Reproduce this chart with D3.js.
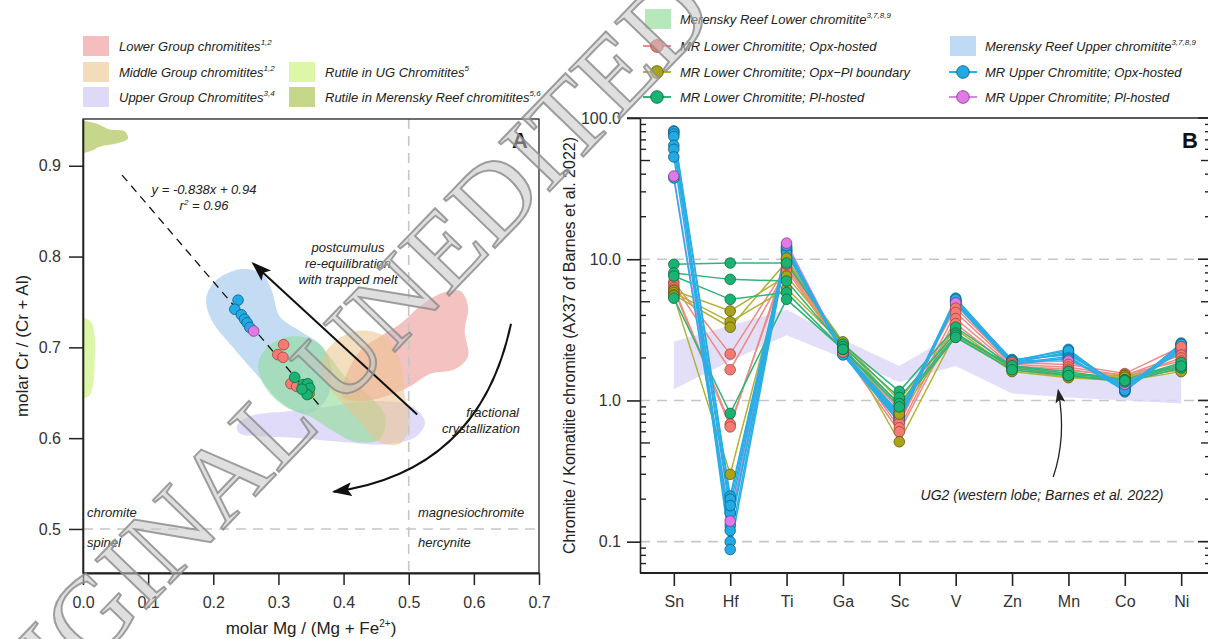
<!DOCTYPE html>
<html>
<head>
<meta charset="utf-8">
<script src="https://cdn.jsdelivr.net/npm/d3@7"></script>
<style>
  body { margin: 0; background: #fff; }
  svg { display: block; }
</style>
</head>
<body>
<svg id="chart" width="1208" height="639"></svg>
<script>
// ---------------- Panel A: spinel classification ----------------
const xTicksA = [0, 0.1, 0.2, 0.3, 0.4, 0.5, 0.6, 0.7];
const xTickLabelsA = ["0.0", "0.1", "0.2", "0.3", "0.4", "0.5", "0.6", "0.7"];
const yTicksA = [0.5, 0.6, 0.7, 0.8, 0.9];
const yTickLabelsA = ["0.5", "0.6", "0.7", "0.8", "0.9"];

// measured chromite compositions: Mg# and Cr#
const upperOpxMg = [0.238, 0.233, 0.243, 0.248, 0.252, 0.256];
const upperOpxCr = [0.752, 0.742, 0.736, 0.731, 0.727, 0.722];
const upperPlMg = [0.262];
const upperPlCr = [0.718];
const lowerOpxMg = [0.308, 0.299, 0.307, 0.319, 0.328];
const lowerOpxCr = [0.703, 0.692, 0.689, 0.660, 0.657];
const lowerBoundaryMg = [0.347];
const lowerBoundaryCr = [0.649];
const lowerPlMg = [0.325, 0.338, 0.345, 0.348, 0.344, 0.336];
const lowerPlCr = [0.667, 0.659, 0.660, 0.655, 0.648, 0.654];

// regression through the data
const fitSlope = -0.838, fitIntercept = 0.94;
const fitRange = [0.06, 0.365];

// literature fields, outlines as [Mg#, Cr#]
const fieldUpperGroup = [[0.236,0.613],[0.256,0.624],[0.318,0.630],[0.379,0.635],[0.441,0.641],[0.502,0.636],[0.525,0.618],[0.510,0.601],[0.456,0.593],[0.395,0.596],[0.333,0.600],[0.272,0.602],[0.241,0.605]];
const fieldMRUpper = [[0.203,0.773],[0.241,0.786],[0.275,0.781],[0.290,0.762],[0.302,0.734],[0.333,0.718],[0.367,0.701],[0.382,0.674],[0.372,0.641],[0.341,0.627],[0.302,0.641],[0.269,0.668],[0.229,0.701],[0.198,0.729],[0.189,0.753]];
const fieldMRLower = [[0.284,0.701],[0.318,0.712],[0.356,0.707],[0.379,0.690],[0.402,0.668],[0.441,0.646],[0.464,0.624],[0.456,0.599],[0.418,0.596],[0.379,0.610],[0.348,0.624],[0.310,0.635],[0.279,0.657],[0.269,0.682]];
const fieldLowerGroup = [[0.402,0.665],[0.425,0.696],[0.456,0.712],[0.487,0.726],[0.517,0.745],[0.548,0.759],[0.579,0.762],[0.591,0.745],[0.586,0.718],[0.591,0.690],[0.571,0.676],[0.533,0.671],[0.502,0.657],[0.464,0.646],[0.425,0.641],[0.398,0.646]];
const fieldMiddleGroup = [[0.379,0.701],[0.418,0.718],[0.464,0.712],[0.487,0.685],[0.494,0.646],[0.502,0.618],[0.487,0.594],[0.453,0.596],[0.425,0.618],[0.395,0.641],[0.372,0.663],[0.367,0.685]];
const fieldRutileMR = [[-0.01,0.948],[0.018,0.947],[0.041,0.940],[0.064,0.938],[0.069,0.930],[0.054,0.925],[0.026,0.921],[0.011,0.916],[-0.01,0.915]];
const fieldRutileUG = [[-0.01,0.732],[0.011,0.729],[0.018,0.712],[0.018,0.685],[0.015,0.657],[0.008,0.646],[-0.01,0.645]];

// ---------------- Panel B: normalised trace elements ----------------
const elements = ["Sn", "Hf", "Ti", "Ga", "Sc", "V", "Zn", "Mn", "Co", "Ni"];
const yTicksB = [0.1, 1, 10, 100];
const yTickLabelsB = ["0.1", "1.0", "10.0", "100.0"];

const lowerOpxProfiles = [
  [6.9, 2.13, 8.8, 2.30, 0.86, 4.5, 1.85, 1.80, 1.55, 2.40],
  [6.6, 1.65, 8.4, 2.25, 0.69, 4.2, 1.80, 1.72, 1.50, 2.10],
  [6.3, 0.68, 9.2, 2.35, 0.64, 3.8, 1.75, 1.66, 1.45, 2.00],
  [6.1, 0.65, 10.0, 2.20, 0.60, 3.5, 1.70, 1.62, 1.52, 1.90]
];
const lowerBoundaryProfiles = [
  [6.0, 4.3, 7.6, 2.55, 1.00, 3.2, 1.65, 1.46, 1.44, 1.64],
  [5.8, 3.6, 6.2, 2.50, 0.92, 2.8, 1.73, 1.50, 1.50, 1.70],
  [5.6, 3.3, 9.6, 2.60, 0.51, 3.0, 1.60, 1.45, 1.38, 1.60],
  [5.5, 0.30, 10.2, 2.40, 0.80, 2.9, 1.70, 1.55, 1.46, 1.75]
];
const lowerPlProfiles = [
  [9.2, 9.4, 9.4, 2.50, 1.16, 3.3, 1.75, 1.55, 1.40, 1.80],
  [8.0, 7.2, 7.0, 2.40, 1.05, 3.0, 1.70, 1.50, 1.35, 1.70],
  [7.6, 5.2, 5.8, 2.30, 0.95, 2.9, 1.76, 1.60, 1.40, 1.85],
  [5.3, 0.81, 5.2, 2.30, 0.90, 2.8, 1.65, 1.50, 1.38, 1.75]
];
const upperOpxProfiles = [
  [81, 0.21, 12.2, 2.20, 0.75, 5.3, 1.90, 2.30, 1.15, 2.55],
  [80, 0.10, 12.0, 2.20, 0.76, 5.0, 1.88, 2.15, 1.22, 2.45],
  [77, 0.20, 11.5, 2.15, 0.72, 5.1, 1.85, 2.20, 1.20, 2.50],
  [74, 0.088, 11.3, 2.18, 0.74, 4.9, 1.82, 2.05, 1.17, 2.35],
  [64, 0.16, 11.8, 2.25, 0.78, 5.0, 1.95, 2.10, 1.25, 2.40],
  [60, 0.18, 11.6, 2.22, 0.80, 5.1, 1.92, 2.25, 1.20, 2.50],
  [53, 0.13, 11.0, 2.20, 0.82, 4.8, 1.80, 2.00, 1.18, 2.30],
  [37.6, 0.12, 12.5, 2.10, 0.70, 5.2, 1.90, 1.95, 1.30, 2.20]
];
const upperPlProfiles = [
  [38.8, 0.14, 13.0, 2.20, 0.72, 4.9, 1.85, 1.90, 1.30, 2.30]
];

// UG2 western lobe envelope
const ug2Upper = [2.6, 3.4, 4.4, 2.7, 1.75, 3.0, 1.6, 1.5, 1.45, 1.55];
const ug2Lower = [1.2, 1.9, 2.9, 2.0, 1.35, 1.75, 1.12, 1.05, 1.0, 0.95];

// ---------------- styles ----------------
const SANS = '"Liberation Sans", Arial, Helvetica, sans-serif';
const styleLowerOpx = { fill: "#f47a72", stroke: "#a4443e", line: "#f08a82" };
const styleBoundary = { fill: "#a8a31a", stroke: "#5c5a0e", line: "#b4b038" };
const styleLowerPl  = { fill: "#1bb373", stroke: "#0c6a42", line: "#2fb57a" };
const styleUpperOpx = { fill: "#21aae3", stroke: "#0e5f88", line: "#2aaee6" };
const styleUpperPl  = { fill: "#e07ae6", stroke: "#8a3a90", line: "#d58ae0" };
const fieldStyles = {
  lowerGroup:  { fill: "#ef9a9a", op: 0.6 },
  middleGroup: { fill: "#e9c48a", op: 0.55 },
  upperGroup:  { fill: "#d5cff5", op: 0.75 },
  rutileUG:    { fill: "#dcf7a8", op: 1 },
  rutileMR:    { fill: "#c6d68a", op: 1 },
  mrLower:     { fill: "#8fdc98", op: 0.6 },
  mrUpper:     { fill: "#a9cdf0", op: 0.7 }
};

const svg = d3.select("#chart").style("font-family", SANS);

// arrowheads
const defs = svg.append("defs");
defs.append("marker").attr("id", "headBig")
  .attr("viewBox", "0 0 20 14").attr("refX", 18).attr("refY", 7)
  .attr("markerWidth", 20).attr("markerHeight", 14)
  .attr("markerUnits", "userSpaceOnUse").attr("orient", "auto")
  .append("path").attr("d", "M0,0 L20,7 L0,14 L4,7 Z").attr("fill", "#111");
defs.append("marker").attr("id", "headSmall")
  .attr("viewBox", "0 0 14 10").attr("refX", 12).attr("refY", 5)
  .attr("markerWidth", 14).attr("markerHeight", 10)
  .attr("markerUnits", "userSpaceOnUse").attr("orient", "auto")
  .append("path").attr("d", "M0,0 L14,5 L0,10 L3,5 Z").attr("fill", "#222");

// ================= PANEL A =================
const xA = d3.scaleLinear().domain([0, 0.7]).range([83, 539]);
const yA = d3.scaleLinear().domain([0.4515, 0.9515]).range([573, 119]);

defs.append("clipPath").attr("id", "clipA").append("rect")
  .attr("x", xA(0)).attr("y", yA(0.9515)).attr("width", xA(0.7) - xA(0)).attr("height", yA(0.4515) - yA(0.9515));

const gA = svg.append("g");
const fieldsA = gA.append("g").attr("clip-path", "url(#clipA)");
const blob = d3.line().x(d => xA(d[0])).y(d => yA(d[1])).curve(d3.curveCatmullRomClosed.alpha(0.5));
[
  [fieldUpperGroup, fieldStyles.upperGroup],
  [fieldMRUpper, fieldStyles.mrUpper],
  [fieldMRLower, fieldStyles.mrLower],
  [fieldLowerGroup, fieldStyles.lowerGroup],
  [fieldMiddleGroup, fieldStyles.middleGroup],
  [fieldRutileMR, fieldStyles.rutileMR],
  [fieldRutileUG, fieldStyles.rutileUG]
].forEach(([pts, st]) => {
  fieldsA.append("path").attr("d", blob(pts)).attr("fill", st.fill).attr("fill-opacity", st.op);
});

// classification boundaries
gA.append("line").attr("x1", xA(0)).attr("x2", xA(0.7)).attr("y1", yA(0.5)).attr("y2", yA(0.5))
  .attr("stroke", "#c6c6c6").attr("stroke-width", 1.6).attr("stroke-dasharray", "10,7");
gA.append("line").attr("x1", xA(0.5)).attr("x2", xA(0.5)).attr("y1", yA(0.9515)).attr("y2", yA(0.4515))
  .attr("stroke", "#c6c6c6").attr("stroke-width", 1.6).attr("stroke-dasharray", "10,7");

// regression line
gA.append("line")
  .attr("x1", xA(fitRange[0])).attr("y1", yA(fitSlope * fitRange[0] + fitIntercept))
  .attr("x2", xA(fitRange[1])).attr("y2", yA(fitSlope * fitRange[1] + fitIntercept))
  .attr("stroke", "#111").attr("stroke-width", 1.3).attr("stroke-dasharray", "8,6");

// process arrows
gA.append("line")
  .attr("x1", xA(0.513)).attr("y1", yA(0.626)).attr("x2", xA(0.261)).attr("y2", yA(0.7925))
  .attr("stroke", "#111").attr("stroke-width", 2).attr("marker-end", "url(#headBig)");
const curvePath = d3.path();
curvePath.moveTo(xA(0.657), yA(0.726));
curvePath.quadraticCurveTo(xA(0.609), yA(0.563), xA(0.385), yA(0.541));
gA.append("path").attr("d", curvePath.toString()).attr("fill", "none")
  .attr("stroke", "#111").attr("stroke-width", 2).attr("marker-end", "url(#headBig)");

// data points
function dotsA(mg, cr, st) {
  gA.append("g").selectAll("circle").data(mg).join("circle")
    .attr("cx", d => xA(d)).attr("cy", (d, i) => yA(cr[i])).attr("r", 5.3)
    .attr("fill", st.fill).attr("stroke", st.stroke).attr("stroke-width", 0.8);
}
dotsA(upperOpxMg, upperOpxCr, styleUpperOpx);
dotsA(upperPlMg, upperPlCr, styleUpperPl);
dotsA(lowerOpxMg, lowerOpxCr, styleLowerOpx);
dotsA(lowerBoundaryMg, lowerBoundaryCr, styleBoundary);
dotsA(lowerPlMg, lowerPlCr, styleLowerPl);

// frame and axes
gA.append("rect").attr("x", xA(0)).attr("y", yA(0.9515)).attr("width", xA(0.7) - xA(0)).attr("height", yA(0.4515) - yA(0.9515))
  .attr("fill", "none").attr("stroke", "#222").attr("stroke-width", 1.3);
const axA = gA.append("g").attr("transform", `translate(0,${yA(0.4515)})`)
  .call(d3.axisBottom(xA).tickValues(xTicksA).tickFormat((d, i) => xTickLabelsA[i]).tickSize(12).tickSizeOuter(0).tickPadding(12));
const ayA = gA.append("g").attr("transform", `translate(${xA(0)},0)`)
  .call(d3.axisLeft(yA).tickValues(yTicksA).tickFormat((d, i) => yTickLabelsA[i]).tickSize(14).tickSizeOuter(0).tickPadding(8));
[axA, ayA].forEach(g => {
  g.selectAll("text").attr("font-size", 16).attr("fill", "#333").attr("font-family", SANS);
  g.selectAll("line").attr("stroke", "#222").attr("stroke-width", 1.5);
});
axA.select(".domain").attr("stroke", "#222").attr("stroke-width", 2.2);
ayA.select(".domain").attr("stroke", "#222").attr("stroke-width", 1.6);

gA.append("text").attr("x", (xA(0) + xA(0.7)) / 2).attr("y", 634).attr("text-anchor", "middle")
  .attr("font-size", 17).attr("fill", "#222")
  .call(t => { t.append("tspan").text("molar Mg / (Mg + Fe");
               t.append("tspan").text("2+").attr("font-size", 10).attr("dy", -7);
               t.append("tspan").text(")").attr("dy", 7); });
gA.append("text").attr("transform", `translate(28,${(yA(0.4515) + yA(0.9515)) / 2}) rotate(-90)`)
  .attr("text-anchor", "middle").attr("font-size", 17).attr("fill", "#222").text("molar Cr / (Cr + Al)");

// annotations
const ital = (g, x, y, txt, anchor) => g.append("text").attr("x", x).attr("y", y)
  .attr("text-anchor", anchor || "start").attr("font-size", 13).attr("font-style", "italic").attr("fill", "#222").text(txt);
ital(gA, 204, 194, "y = -0.838x + 0.94", "middle");
gA.append("text").attr("x", 204).attr("y", 210).attr("text-anchor", "middle").attr("font-size", 13)
  .attr("font-style", "italic").attr("fill", "#222")
  .call(t => { t.append("tspan").text("r");
               t.append("tspan").text("2").attr("font-size", 8).attr("dy", -5);
               t.append("tspan").text(" = 0.96").attr("dy", 5); });
ital(gA, 348, 252, "postcumulus", "middle");
ital(gA, 348, 268, "re-equilibration", "middle");
ital(gA, 348, 284, "with trapped melt", "middle");
ital(gA, 519, 417, "fractional", "end");
ital(gA, 520, 433, "crystallization", "end");
ital(gA, 87, 517, "chromite");
ital(gA, 87, 547, "spinel");
ital(gA, 418, 517, "magnesiochromite");
ital(gA, 418, 547, "hercynite");
gA.append("text").attr("x", 520).attr("y", 148).attr("text-anchor", "middle")
  .attr("font-size", 22).attr("font-weight", "bold").attr("fill", "#111").text("A");

// ================= PANEL B =================
const xB = d3.scalePoint().domain(elements).range([640, 1215]).padding(0.6);
const yB = d3.scaleLog().domain([0.06, 100]).range([573, 118]);
const gB = svg.append("g");

// decade gridlines
gB.append("g").selectAll("line").data([0.1, 1, 10]).join("line")
  .attr("x1", 640).attr("x2", 1211).attr("y1", d => yB(d)).attr("y2", d => yB(d))
  .attr("stroke", "#c6c6c6").attr("stroke-width", 1.6).attr("stroke-dasharray", "10,7");

// UG2 envelope
const ug2Area = d3.area().x((d, i) => xB(elements[i])).y0((d, i) => yB(ug2Lower[i])).y1(d => yB(d));
gB.append("path").attr("d", ug2Area(ug2Upper)).attr("fill", "#dcd7f7").attr("fill-opacity", 0.8);

const profileLine = d3.line().x((d, i) => xB(elements[i])).y(d => yB(d));
const groupsB = [
  [lowerOpxProfiles, styleLowerOpx],
  [lowerBoundaryProfiles, styleBoundary],
  [lowerPlProfiles, styleLowerPl],
  [upperPlProfiles, styleUpperPl],
  [upperOpxProfiles, styleUpperOpx]
];
groupsB.forEach(([profiles, st]) => {
  gB.append("g").selectAll("path").data(profiles).join("path")
    .attr("d", profileLine).attr("fill", "none").attr("stroke", st.line).attr("stroke-width", 1.5);
});
[
  [upperOpxProfiles, styleUpperOpx],
  [upperPlProfiles, styleUpperPl],
  [lowerOpxProfiles, styleLowerOpx],
  [lowerBoundaryProfiles, styleBoundary],
  [lowerPlProfiles, styleLowerPl]
].forEach(([profiles, st]) => {
  const pts = profiles.flatMap(p => p.map((v, i) => ({ el: elements[i], v })));
  gB.append("g").selectAll("circle").data(pts).join("circle")
    .attr("cx", d => xB(d.el)).attr("cy", d => yB(d.v)).attr("r", 5.3)
    .attr("fill", st.fill).attr("stroke", st.stroke).attr("stroke-width", 0.8);
});

// frame
gB.append("line").attr("x1", 627).attr("x2", 1211).attr("y1", yB(100)).attr("y2", yB(100)).attr("stroke", "#222").attr("stroke-width", 1.5);
gB.append("line").attr("x1", 1211).attr("x2", 1211).attr("y1", yB(100)).attr("y2", yB(0.06)).attr("stroke", "#222").attr("stroke-width", 1.5);

const axB = gB.append("g").attr("transform", `translate(0,${yB(0.06)})`)
  .call(d3.axisBottom(xB).tickSize(13).tickSizeOuter(0).tickPadding(10));
axB.select(".domain").attr("d", "M640,0H1211").attr("stroke", "#222").attr("stroke-width", 2.2);
const ayB = gB.append("g").attr("transform", "translate(640,0)")
  .call(d3.axisLeft(yB).tickValues(yTicksB).tickFormat((d, i) => yTickLabelsB[i]).tickSize(13).tickSizeOuter(0).tickPadding(6));
ayB.select(".domain").attr("stroke", "#222").attr("stroke-width", 1.6);
[axB, ayB].forEach(g => {
  g.selectAll("text").attr("font-size", 16).attr("fill", "#333").attr("font-family", SANS);
  g.selectAll("line").attr("stroke", "#222").attr("stroke-width", 1.6);
});
// minor ticks on the log axis (inside), mirrored on the right
const minorB = yB.ticks().filter(v => v >= 0.06 && v <= 100 && !yTicksB.includes(v));
const minorLen = v => (Math.abs(v / Math.pow(10, Math.floor(Math.log10(v) + 1e-9)) - 5) < 1e-6 ? 10 : 6);
gB.append("g").selectAll("line").data(minorB).join("line")
  .attr("x1", 640).attr("x2", d => 640 + minorLen(d)).attr("y1", d => yB(d)).attr("y2", d => yB(d))
  .attr("stroke", "#222").attr("stroke-width", 1.4);
gB.append("g").selectAll("line").data(minorB).join("line")
  .attr("x1", 1211).attr("x2", d => 1211 - minorLen(d)).attr("y1", d => yB(d)).attr("y2", d => yB(d))
  .attr("stroke", "#222").attr("stroke-width", 1.4);
gB.append("g").selectAll("line").data(yTicksB).join("line")
  .attr("x1", 1211).attr("x2", 1198).attr("y1", d => yB(d)).attr("y2", d => yB(d))
  .attr("stroke", "#222").attr("stroke-width", 1.6);

gB.append("text").attr("transform", `translate(575,${(yB(0.06) + yB(100)) / 2}) rotate(-90)`)
  .attr("text-anchor", "middle").attr("font-size", 16).attr("fill", "#222")
  .text("Chromite / Komatiite chromite (AX37 of Barnes et al. 2022)");
gB.append("text").attr("x", 1190).attr("y", 148).attr("text-anchor", "middle")
  .attr("font-size", 22).attr("font-weight", "bold").attr("fill", "#111").text("B");

// UG2 callout
const step = xB.step();
const ug2Arrow = d3.path();
ug2Arrow.moveTo(xB("Mn") - 0.27 * step, yB(0.287));
ug2Arrow.quadraticCurveTo(xB("Mn") - 0.03 * step, yB(0.55), xB("Mn") - 0.18 * step, yB(1.17));
gB.append("path").attr("d", ug2Arrow.toString()).attr("fill", "none").attr("stroke", "#222")
  .attr("stroke-width", 1.3).attr("marker-end", "url(#headSmall)");
gB.append("text").attr("x", 1042).attr("y", yB(0.215) + 5).attr("text-anchor", "middle")
  .attr("font-size", 14).attr("font-style", "italic").attr("fill", "#222")
  .text("UG2 (western lobe; Barnes et al. 2022)");

// ================= LEGENDS =================
const lg = svg.append("g").attr("font-size", 13).attr("font-style", "italic").attr("fill", "#222");
function legText(x, y, main, sup) {
  const t = lg.append("text").attr("x", x).attr("y", y + 4.5);
  t.append("tspan").text(main);
  if (sup) t.append("tspan").text(sup).attr("font-size", 8).attr("dy", -6);
}
function legSwatch(x, y, st, main, sup, textX) {
  lg.append("rect").attr("x", x).attr("y", y - 10).attr("width", 26).attr("height", 20)
    .attr("fill", st.fill).attr("fill-opacity", Math.min(1, st.op + 0.05));
  legText(textX, y, main, sup);
}
function legSeries(x, y, st, main, textX) {
  lg.append("line").attr("x1", x).attr("x2", x + 28).attr("y1", y).attr("y2", y)
    .attr("stroke", st.line).attr("stroke-width", 2);
  lg.append("circle").attr("cx", x + 14).attr("cy", y).attr("r", 6.3)
    .attr("fill", st.fill).attr("stroke", st.stroke).attr("stroke-width", 0.9);
  legText(textX, y, main);
}
legSwatch(83, 46, fieldStyles.lowerGroup, "Lower Group chromitites", "1,2", 119);
legSwatch(83, 72, fieldStyles.middleGroup, "Middle Group chromitites", "1,2", 119);
legSwatch(83, 97, fieldStyles.upperGroup, "Upper Group Chromitites", "3,4", 119);
legSwatch(289, 72, fieldStyles.rutileUG, "Rutile in UG Chromitites", "5", 325);
legSwatch(289, 97, fieldStyles.rutileMR, "Rutile in Merensky Reef chromitites", "5,6", 325);

legSwatch(645, 19, fieldStyles.mrLower, "Merensky Reef Lower chromitite", "3,7,8,9", 680);
legSeries(643, 46, styleLowerOpx, "MR Lower Chromitite; Opx-hosted", 680);
legSeries(643, 72, styleBoundary, "MR Lower Chromitite; Opx\u2212Pl boundary", 680);
legSeries(643, 97, styleLowerPl, "MR Lower Chromitite; Pl-hosted", 680);
legSwatch(950, 46, fieldStyles.mrUpper, "Merensky Reef Upper chromitite", "3,7,8,9", 985);
legSeries(949, 72, styleUpperOpx, "MR Upper Chromitite; Opx-hosted", 985);
legSeries(949, 97, styleUpperPl, "MR Upper Chromitite; Pl-hosted", 985);

// ================= manuscript stamp =================
svg.append("text")
  .attr("transform", "translate(-40,802) rotate(-46)")
  .attr("font-family", '"Liberation Serif", "Times New Roman", serif')
  .attr("font-size", 108)
  .attr("fill", "#c4c4c4").attr("fill-opacity", 0.55)
  .attr("stroke", "#8e8e8e").attr("stroke-width", 2).attr("stroke-opacity", 0.85)
  .text("ORIGINAL UNEDITED MANUSCRIPT");
</script>
</body>
</html>
